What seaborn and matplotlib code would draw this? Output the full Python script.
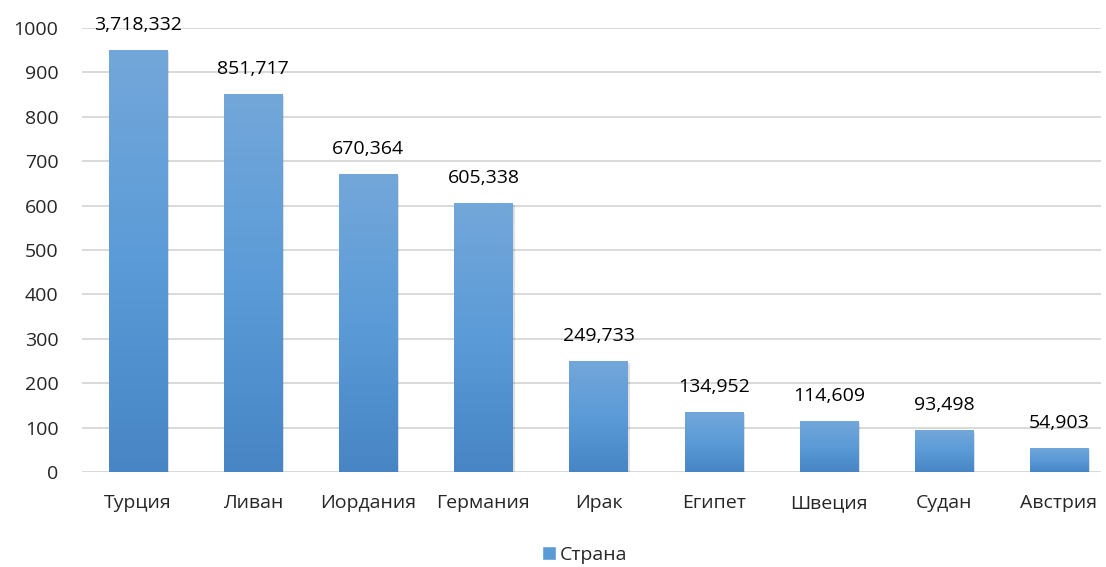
import numpy as np
import pandas as pd
import matplotlib
matplotlib.use("Agg")
import matplotlib.pyplot as plt
import matplotlib.patheffects as pe
from matplotlib.colors import LinearSegmentedColormap
import seaborn as sns

# ---- data ----
countries = ["Турция", "Ливан", "Иордания", "Германия", "Ирак",
             "Египет", "Швеция", "Судан", "Австрия"]
bar_heights = [950, 851.717, 670.364, 605.338, 249.733,
               134.952, 114.609, 93.498, 54.903]   # as drawn (thousands; Turkey bar capped in the original)
value_labels = ["3,718,332", "851,717", "670,364", "605,338", "249,733",
                "134,952", "114,609", "93,498", "54,903"]
series_name = "Страна"
y_ticks = [0, 100, 200, 300, 400, 500, 600, 700, 800, 900, 1000]

df = pd.DataFrame({"country": countries, "value": bar_heights})

sns.set_theme(style="white")
plt.rcParams["font.family"] = ["Open Sans", "DejaVu Sans"]
FS = 14

W, H = 1106, 567
fig = plt.figure(figsize=(W / 100, H / 100), dpi=100)
ax = fig.add_axes([82 / W, 95 / H, (1101 - 82) / W, 444 / H])

mid = "#5b9bd5"
sns.barplot(data=df, x="country", y="value", color=mid, width=0.505,
            saturation=1, ax=ax, zorder=3)

cmap = LinearSegmentedColormap.from_list("g", ["#4785c5", "#5b9bd7", "#73a7da"])
grad = np.linspace(0, 1, 256).reshape(-1, 1)
for p in ax.patches:
    p.set_edgecolor("none")
    p.set_path_effects([pe.SimplePatchShadow(offset=(1.5, -1.5), shadow_rgbFace="#000000", alpha=0.12),
                        pe.Normal()])
    x0, y0 = p.get_x(), p.get_y()
    w, h = p.get_width(), p.get_height()
    im = ax.imshow(grad, cmap=cmap, origin="lower", aspect="auto",
                   extent=[x0, x0 + w, y0, y0 + h], zorder=4)
    im.set_clip_path(p)

for p, lab in zip(ax.patches, value_labels):
    ax.annotate(lab, (p.get_x() + p.get_width() / 2, p.get_height()),
                xytext=(0, 25), textcoords="offset pixels",
                ha="center", va="center", fontsize=FS, color="#000000", zorder=6)

ax.set_xlim(-0.487, 8.365)
ax.set_ylim(0, 1000)
ax.set_yticks(y_ticks)
ax.set_yticklabels([str(t) for t in y_ticks], fontsize=FS)
ax.tick_params(axis="x", labelsize=FS, pad=16, length=0)
ax.tick_params(axis="y", pad=17, length=0)
ax.grid(axis="y", color="#d3d3d3", linewidth=1.2, zorder=0)
ax.set_axisbelow(True)
for s in ax.spines.values():
    s.set_visible(False)
ax.set_xlabel("")
ax.set_ylabel("")
ax.set_autoscale_on(False)

handle = plt.Rectangle((0, 0), 1, 1, facecolor=mid)
fig.legend([handle], [series_name], loc="center", bbox_to_anchor=(0.5285, 0.021),
           frameon=False, fontsize=FS, handlelength=0.7, handleheight=0.7,
           handletextpad=0.2)

fig.savefig("out.png", dpi=100)
